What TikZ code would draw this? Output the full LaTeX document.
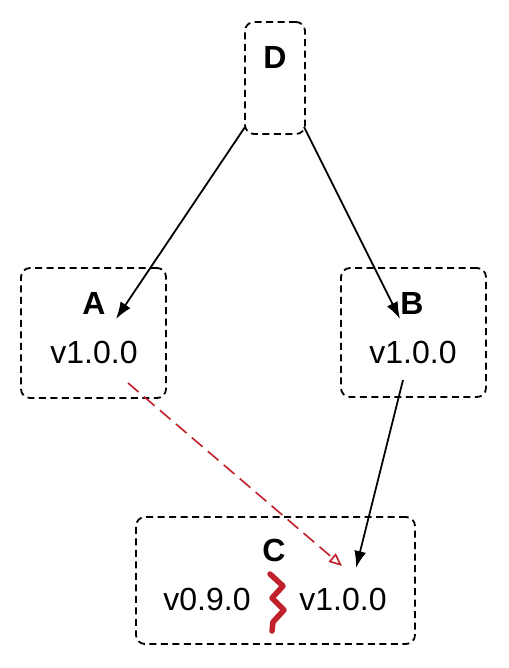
\documentclass[tikz,border=0pt]{standalone}
\usepackage{fontspec}
\setmainfont{Liberation Sans}
\usetikzlibrary{arrows.meta}
\definecolor{conflict}{RGB}{192,32,42}
\begin{document}
\begin{tikzpicture}[x=1pt,y=-1pt,
  pkgbox/.style={draw=black,line width=1.8pt,dash pattern=on 7pt off 4.5pt,rounded corners=9pt,inner sep=0pt},
  txt/.style={inner sep=0pt,font=\fontsize{32}{38}\selectfont},
  btxt/.style={inner sep=0pt,font=\fontsize{32}{38}\selectfont\bfseries},
  dep/.style={line width=1.8pt,-{Latex[length=17pt,width=12pt]}},
  bad/.style={conflict,line width=1.6pt,dash pattern=on 14pt off 7pt,-{Triangle[open,length=13pt,width=11pt,line width=1.6pt]}},
  zig/.style={conflict,line width=5.5pt,line cap=round,line join=round}]
\useasboundingbox (0,0) rectangle (508,668);
\fill[white] (0,0) rectangle (508,668);
% boxes
\node[pkgbox,minimum width=60pt,minimum height=112pt] (D) at (275,78) {};
\node[pkgbox,minimum width=145pt,minimum height=130pt] (A) at (93.5,333) {};
\node[pkgbox,minimum width=145pt,minimum height=129pt] (B) at (413.5,332.5) {};
\node[pkgbox,minimum width=279pt,minimum height=127pt] (C) at (275.5,580.5) {};
% labels
\node[btxt] (Dl) at (275,57) {D};
\node[btxt] (Al) at (94,303) {A};
\node[txt] (Av) at (94,352) {v1.0.0};
\node[btxt] (Bl) at (412,303) {B};
\node[txt] (Bv) at (413,352) {v1.0.0};
\node[btxt] (Cl) at (274,550) {C};
\node[txt] (Cold) at (207,599) {v0.9.0};
\node[txt] (Cnew) at (343,599) {v1.0.0};
% connector end points
\coordinate (Dsw) at (245,127);
\coordinate (Dse) at (304,127);
\coordinate (Ain) at (116,319);
\coordinate (Bin) at (400,319);
\coordinate (Bout) at (403,380);
\coordinate (Aout) at (128,383);
\coordinate (Cin) at (356,568);
\coordinate (Cbad) at (342,566);
% connectors
\draw[dep] (Dsw) -- (Ain);
\draw[dep] (Dse) -- (Bin);
\draw[dep] (Bout) -- (Cin);
\draw[bad] (Aout) -- (Cbad);
% conflict zigzag
\draw[zig] (270,574) -- (283,586) -- (272,598) -- (284,610) -- (273,622) -- (272,631);
\end{tikzpicture}
\end{document}
